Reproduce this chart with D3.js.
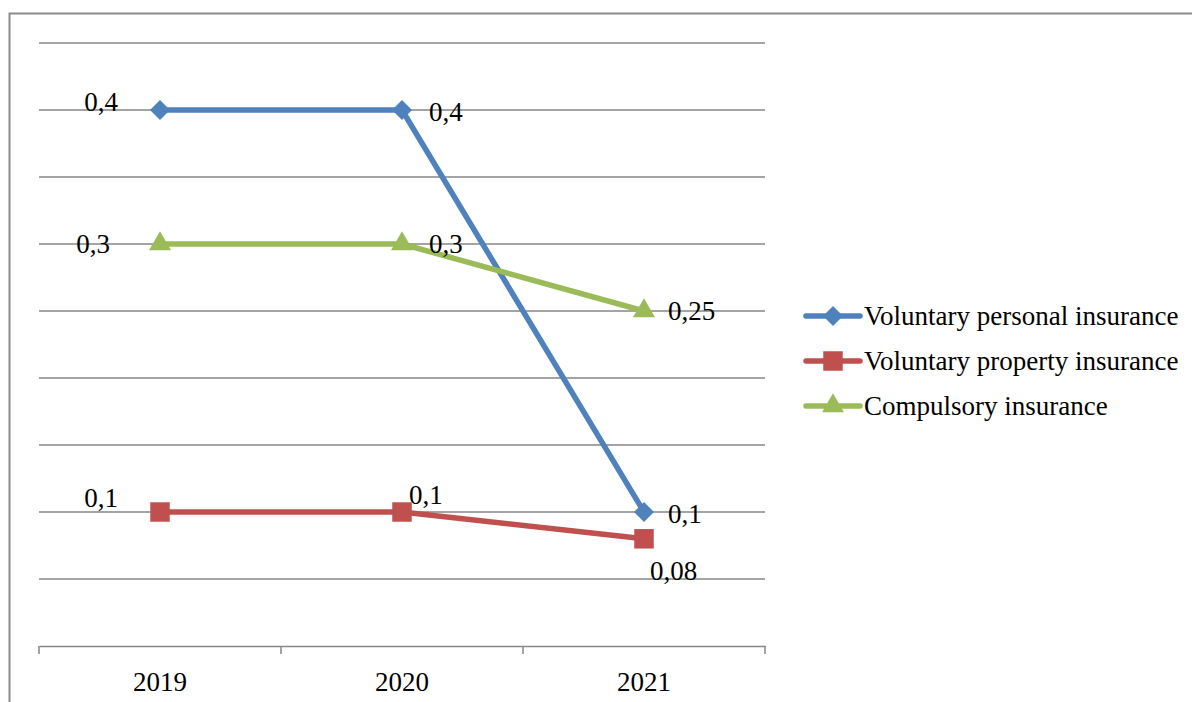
<!DOCTYPE html>
<html><head><meta charset="utf-8">
<script src="https://cdn.jsdelivr.net/npm/d3@7"></script>
<style>body{margin:0;background:#fff;}svg{display:block;font-family:"Liberation Serif","Times New Roman",serif;}</style>
</head><body><svg id="c" width="1192" height="702"></svg>
<script>
const years = ["2019","2020","2021"];
const seriesNames = ["Voluntary personal insurance","Voluntary property insurance","Compulsory insurance"];
const personal = [0.4, 0.4, 0.1];
const property = [0.1, 0.1, 0.08];
const compulsory = [0.3, 0.3, 0.25];
const labelText = [["0,4","0,4","0,1"],["0,1","0,1","0,08"],["0,3","0,3","0,25"]];
const yTicks = [0,0.05,0.1,0.15,0.2,0.25,0.3,0.35,0.4,0.45];

const colors = ["#4F81BD","#C0504D","#9BBB59"];
const fs = 27;
// label placement [anchor, dx, dy]
const labelPos = [
  [["end",-42,-8],["start",27,2],["start",24,2]],
  [["end",-42,-14],["start",7,-17],["start",6,32]],
  [["end",-50,0],["start",27,0],["start",24,0]]
];
const data = [personal, property, compulsory];

function marker(sel, k){
  if(k===0) return sel.attr("d",d3.symbol().type(d3.symbolSquare).size(200));
  if(k===1) return sel.attr("d",d3.symbol().type(d3.symbolSquare).size(380));
  return sel.attr("d",d3.symbol().type(d3.symbolTriangle).size(210));
}

const svg = d3.select("#c");
svg.append("path").attr("d","M9.5,702 V13.5 H1192").attr("fill","none").attr("stroke","#8c8c8c").attr("stroke-width",2);

const x0 = 39, x1 = 765, yTop = 43, yBot = 646;
const x = d3.scaleBand().domain(years).range([x0,x1]).padding(0);
const y = d3.scaleLinear().domain([0,0.45]).range([yBot,yTop]);
const cx = d => x(d) + x.bandwidth()/2;

const g = svg.append("g");
g.selectAll("line.grid").data(yTicks.filter(t=>t>0)).join("line")
  .attr("x1",x0).attr("x2",x1).attr("y1",d=>y(d)).attr("y2",d=>y(d))
  .attr("stroke","#868686").attr("stroke-width",1.5);

const xAxis = g.append("g").attr("transform",`translate(0,${yBot})`)
  .call(d3.axisBottom(x).tickSize(0).tickPadding(26));
xAxis.select(".domain").attr("stroke","#868686").attr("stroke-width",1.5);
xAxis.selectAll("text").attr("font-size",fs).attr("fill","#000").attr("font-family","Liberation Serif, serif");
const bounds = years.map(d=>x(d)).concat([x1]);
xAxis.selectAll("line.bt").data(bounds).join("line").attr("class","bt")
  .attr("x1",d=>d).attr("x2",d=>d).attr("y1",0).attr("y2",8)
  .attr("stroke","#868686").attr("stroke-width",1.5);

const line = d3.line().x((d,i)=>cx(years[i])).y(d=>y(d));
data.forEach((s,k)=>{
  g.append("path").datum(s).attr("d",line).attr("fill","none")
   .attr("stroke",colors[k]).attr("stroke-width",5.5).attr("stroke-linejoin","round");
});
data.forEach((s,k)=>{
  g.selectAll(null).data(s).join("path")
   .call(sel=>marker(sel,k))
   .attr("transform",(d,i)=>`translate(${cx(years[i])},${y(d)})`+(k===0?" rotate(45)":""))
   .attr("fill",colors[k]);
});
data.forEach((s,k)=>{
  g.selectAll(null).data(s).join("text")
   .attr("x",(d,i)=>cx(years[i])+labelPos[k][i][1])
   .attr("y",(d,i)=>y(d)+labelPos[k][i][2])
   .attr("dy","0.35em")
   .attr("text-anchor",(d,i)=>labelPos[k][i][0])
   .attr("font-size",fs).attr("fill","#000")
   .text((d,i)=>labelText[k][i]);
});

const leg = svg.append("g");
const legY = [316,361,406];
seriesNames.forEach((n,k)=>{
  const r = leg.append("g").attr("transform",`translate(0,${legY[k]})`);
  r.append("line").attr("x1",806).attr("x2",860).attr("y1",0).attr("y2",0)
   .attr("stroke",colors[k]).attr("stroke-width",5.5).attr("stroke-linecap","round");
  r.append("path").call(sel=>marker(sel,k))
   .attr("transform","translate(833,0)"+(k===0?" rotate(45)":""))
   .attr("fill",colors[k]);
  r.append("text").attr("x",864).attr("y",0).attr("dy","0.35em").attr("font-size",fs)
   .attr("fill","#000").text(n);
});
</script></body></html>
